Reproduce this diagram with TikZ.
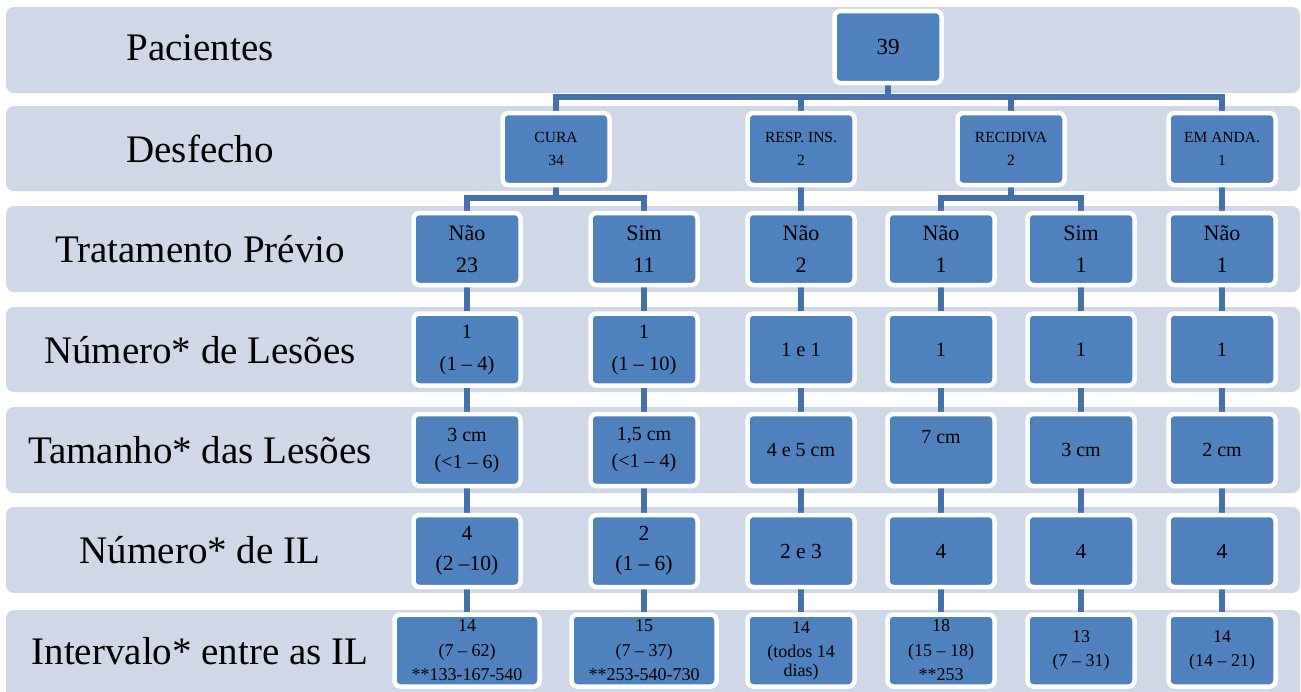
\documentclass[tikz,border=0pt]{standalone}
\usepackage{fontspec}
\setmainfont{Liberation Serif}
\usetikzlibrary{calc}
\definecolor{bandfill}{HTML}{D0D8E8}
\definecolor{boxfill}{HTML}{4F81BD}
\definecolor{linkcol}{HTML}{4571A8}
\pgfdeclarelayer{bands}
\pgfdeclarelayer{links}
\pgfsetlayers{bands,links,main}

\begin{document}
\begin{tikzpicture}[x=1pt,y=-1pt,
  band/.style={fill=bandfill, rounded corners=8pt},
  lab/.style={font=\fontsize{39}{44}\selectfont, text=black, inner sep=0pt},
  box/.style={draw=white, line width=4.5pt, fill=boxfill, rounded corners=6pt,
    minimum width=107pt, minimum height=72pt, inner sep=0pt, align=center, text=black},
  widebox/.style={box, minimum width=145pt},
  fA/.style={font=\fontsize{23}{26}\selectfont},
  fB/.style={font=\fontsize{15.5}{23}\selectfont},
  fC/.style={font=\fontsize{22}{32}\selectfont},
  fD/.style={font=\fontsize{20.5}{32}\selectfont},
  fE/.style={font=\fontsize{20}{27}\selectfont},
  fF/.style={font=\fontsize{21.5}{30}\selectfont},
  fG/.style={font=\fontsize{18}{24.5}\selectfont},
  link/.style={draw=linkcol, line width=5.5pt}
]
\useasboundingbox (0,0) rectangle (1301,691);

% row bands
\begin{pgfonlayer}{bands}
  \fill[band] (6,7)   rectangle (1300,93);
  \fill[band] (6,106) rectangle (1300,191);
  \fill[band] (6,206) rectangle (1300,292);
  \fill[band] (6,307) rectangle (1300,392);
  \fill[band] (6,407) rectangle (1300,493);
  \fill[band] (6,507) rectangle (1300,593);
  \fill[band] (6,610) rectangle (1300,700);
\end{pgfonlayer}

% row labels
\node[lab] (l1) at (200,48)  {Pacientes};
\node[lab] (l2) at (200,149) {Desfecho};
\node[lab] (l3) at (200,249) {Tratamento Prévio};
\node[lab] (l4) at (200,350) {Número* de Lesões};
\node[lab] (l5) at (200,450) {Tamanho* das Lesões};
\node[lab] (l6) at (200,550) {Número* de IL};
\node[lab] (l7) at (200,651) {Intervalo* entre as IL};

% patients
\node[box,fA] (p) at (888,47) {39};

% outcome
\node[box,fB] (cura)  at (556,149)  {CURA\\34};
\node[box,fB] (resp)  at (801,149)  {RESP. INS.\\2};
\node[box,fB] (recid) at (1011,149) {RECIDIVA\\2};
\node[box,fB] (anda)  at (1222,149) {EM ANDA.\\1};

% previous treatment
\node[box,fC] (t1) at (467,249)  {Não\\23};
\node[box,fC] (t2) at (644,249)  {Sim\\11};
\node[box,fC] (t3) at (801,249)  {Não\\2};
\node[box,fC] (t4) at (941,249)  {Não\\1};
\node[box,fC] (t5) at (1081,249) {Sim\\1};
\node[box,fC] (t6) at (1222,249) {Não\\1};

% number of lesions
\node[box,fD] (n1) at (467,349.5)  {1\\(1 – 4)};
\node[box,fD] (n2) at (644,349.5)  {1\\(1 – 10)};
\node[box,fD] (n3) at (801,349.5)  {1 e 1};
\node[box,fD] (n4) at (941,349.5)  {1};
\node[box,fD] (n5) at (1081,349.5) {1};
\node[box,fD] (n6) at (1222,349.5) {1};

% lesion size
\node[box,fE] (s1) at (467,450)  {3 cm\\(<1 – 6)};
\node[box,fE] (s2) at (644,450)  {1,5 cm\\(<1 – 4)};
\node[box,fE] (s3) at (801,450)  {4 e 5 cm};
\node[box,fE] (s4) at (941,450)  {7 cm\\\mbox{}};
\node[box,fE] (s5) at (1081,450) {3 cm};
\node[box,fE] (s6) at (1222,450) {2 cm};

% number of IL
\node[box,fF] (i1) at (467,551)  {4\\(2 –10)};
\node[box,fF] (i2) at (644,551)  {2\\(1 – 6)};
\node[box,fF] (i3) at (801,551)  {2 e 3};
\node[box,fF] (i4) at (941,551)  {4};
\node[box,fF] (i5) at (1081,551) {4};
\node[box,fF] (i6) at (1222,551) {4};

% interval between IL
\node[widebox,fG] (v1) at (467,650.5) {14\\(7 – 62)\\**133-167-540};
\node[widebox,fG] (v2) at (644,650.5) {15\\(7 – 37)\\**253-540-730};
\node[box,fG] (v3) at (801,650.5)  {14\\(todos 14\\[-6pt]dias)};
\node[box,fG] (v4) at (941,650.5)  {18\\(15 – 18)\\**253};
\node[box,fG] (v5) at (1081,650.5) {13\\(7 – 31)};
\node[box,fG] (v6) at (1222,650.5) {14\\(14 – 21)};

% connectors
\coordinate (b1) at (888,97);
\coordinate (b2) at (556,198);
\coordinate (b3) at (1011,198);
\begin{pgfonlayer}{links}
  \draw[link] (p.south) -- (b1);
  \draw[link] (cura.north) |- (b1) -| (anda.north);
  \draw[link] (resp.north) -- (resp.north |- b1);
  \draw[link] (recid.north) -- (recid.north |- b1);

  \draw[link] (cura.south) -- (b2);
  \draw[link] (t1.north) |- (b2) -| (t2.north);
  \draw[link] (resp.south) -- (t3.north);
  \draw[link] (recid.south) -- (b3);
  \draw[link] (t4.north) |- (b3) -| (t5.north);
  \draw[link] (anda.south) -- (t6.north);

  \foreach \c in {1,...,6}{
    \draw[link] (t\c.south) -- (n\c.north);
    \draw[link] (n\c.south) -- (s\c.north);
    \draw[link] (s\c.south) -- (i\c.north);
    \draw[link] (i\c.south) -- (v\c.north);
  }
\end{pgfonlayer}
\end{tikzpicture}
\end{document}
